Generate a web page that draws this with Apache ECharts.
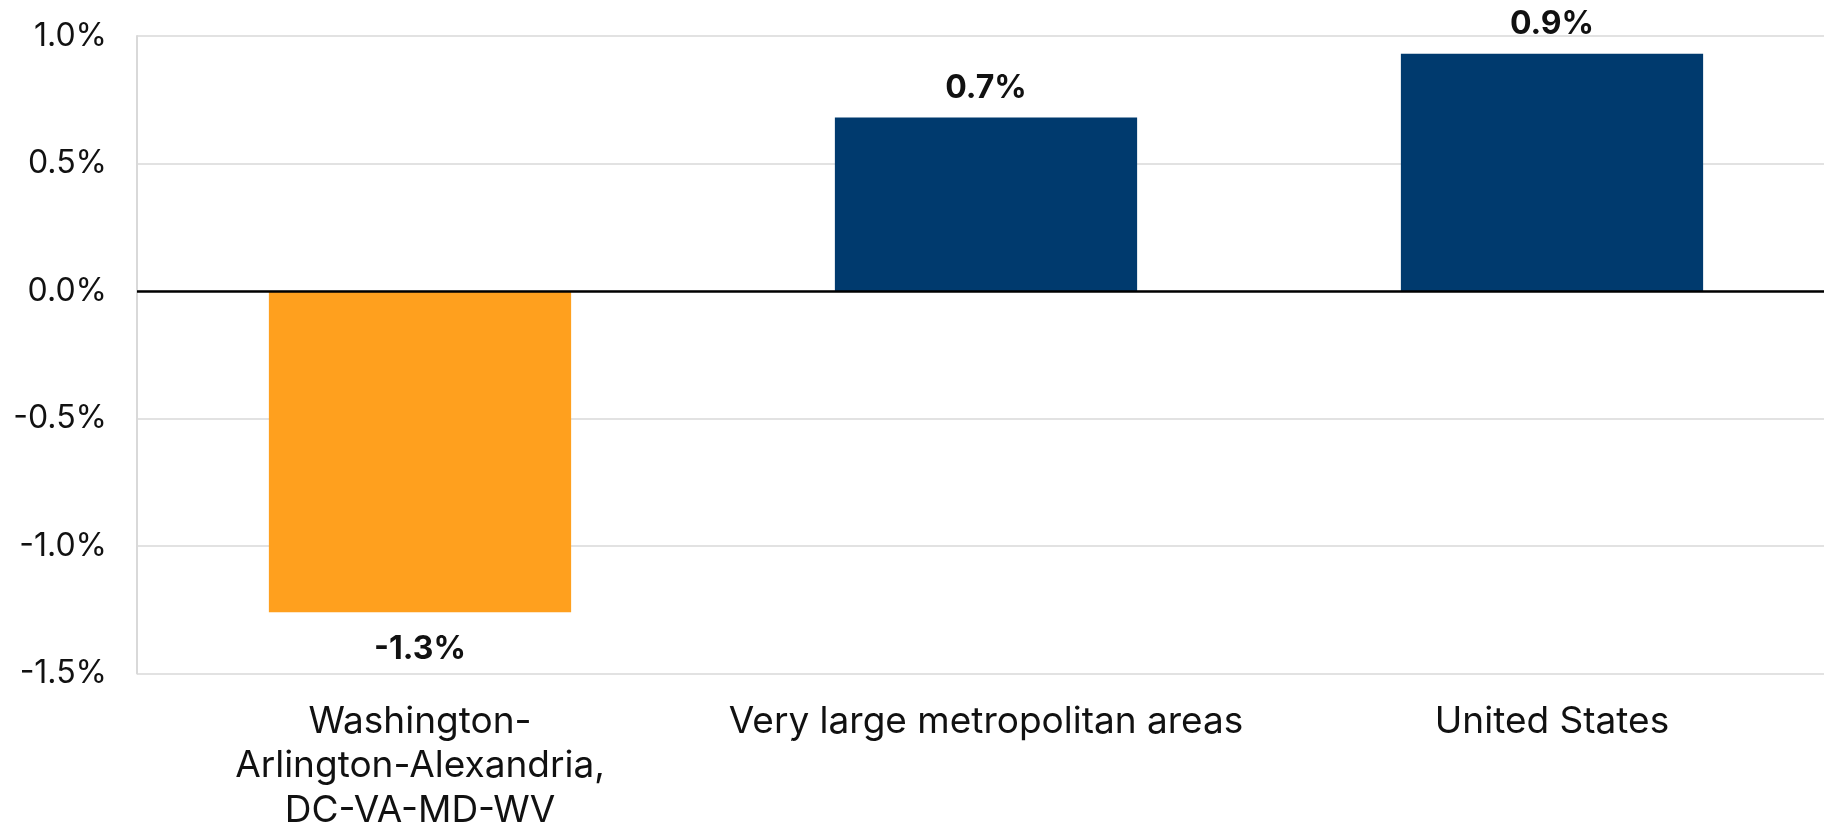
<!DOCTYPE html>
<html>
<head>
<meta charset="utf-8">
<script src="https://cdn.jsdelivr.net/npm/echarts@6/dist/echarts.min.js"></script>
<style>
html,body{margin:0;padding:0;background:#fff;overflow:hidden;width:1824px;height:833px;}
#chart{width:1835px;height:833px;}
</style>
</head>
<body>
<div id="chart"></div>
<script>
const categories = ["Washington-\nArlington-Alexandria,\nDC-VA-MD-WV", "Very large metropolitan areas", "United States"];
const values = [-1.26, 0.68, 0.93];
const barColors = ["#FFA01E", "#003A6E", "#003A6E"];
const yTicks = { min: -1.5, max: 1.0, interval: 0.5 };

const chart = echarts.init(document.getElementById('chart'), null, {renderer: 'canvas'});
const font = 'Inter, "Noto Sans", sans-serif';
chart.setOption({
  animation: false,
  grid: { left: 137, right: 0, top: 36, bottom: 152, containLabel: false },
  xAxis: {
    type: 'category',
    data: categories,
    axisLine: { show: false },
    axisTick: { show: false },
    axisLabel: { color: '#111', fontFamily: font, fontSize: 37, lineHeight: 44.5, margin: 26, interval: 0 }
  },
  yAxis: {
    type: 'value',
    min: yTicks.min, max: yTicks.max, interval: yTicks.interval,
    axisLine: { show: true, lineStyle: { color: '#d9d9d9', width: 2 } },
    axisTick: { show: false },
    splitLine: { show: true, lineStyle: { color: '#d9d9d9', width: 1.5 } },
    axisLabel: { color: '#111', fontFamily: font, fontSize: 32, margin: 30,
      formatter: v => v.toFixed(1) + '%' }
  },
  series: [{
    type: 'bar',
    barWidth: '53.4%',
    data: values.map((v, i) => ({
      value: v,
      itemStyle: { color: barColors[i] },
      label: { position: v < 0 ? 'bottom' : 'top', distance: v < 0 ? 21 : 13 }
    })),
    label: {
      show: true, color: '#111', fontFamily: font, fontSize: 32, fontWeight: 'bold',
      formatter: p => p.value.toFixed(1) + '%'
    },
    markLine: {
      silent: true, symbol: 'none', label: { show: false },
      lineStyle: { color: '#000', width: 2.5, type: 'solid' },
      data: [{ yAxis: 0 }]
    }
  }]
});
</script>
</body>
</html>
